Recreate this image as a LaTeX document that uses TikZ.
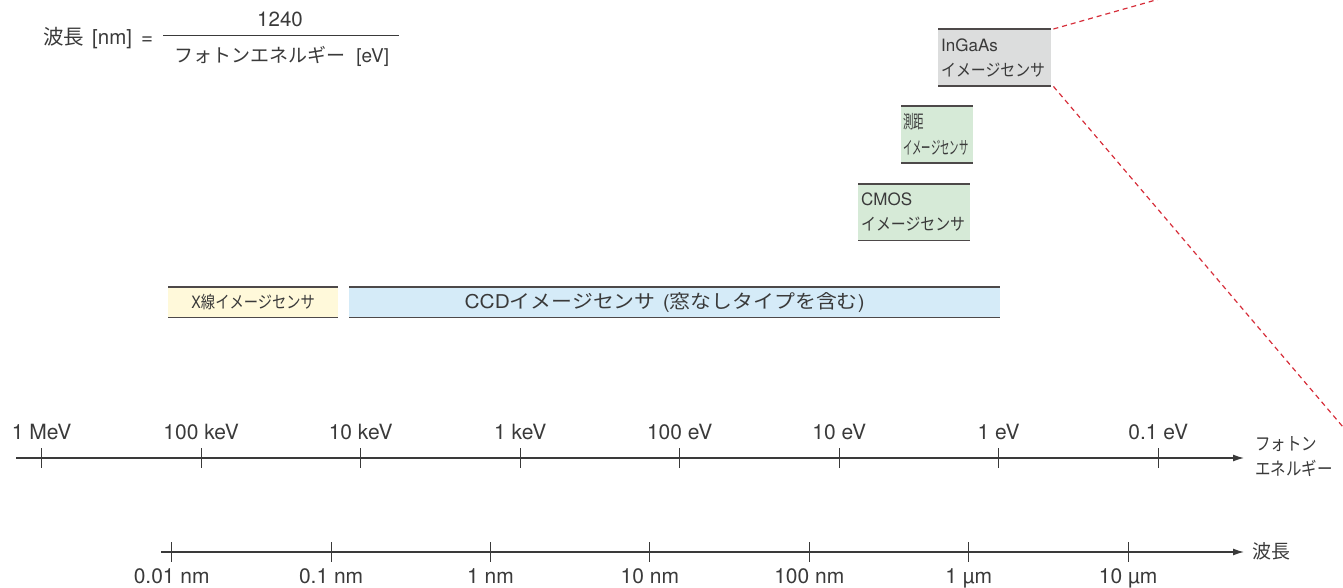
\documentclass[tikz,border=0pt]{standalone}
\usepackage{fontspec}
\setmainfont{TeX Gyre Heros}
\newfontfamily\jp{Noto Sans CJK JP}
\usepackage{graphicx}
\usetikzlibrary{arrows.meta}
\newcommand\sx[2]{\scalebox{#1}[1]{#2}}
\definecolor{ink}{HTML}{3A3A3A}
\definecolor{boxline}{HTML}{4D4949}
\definecolor{xfill}{HTML}{FFF9DA}
\definecolor{ccdfill}{HTML}{D5EBF8}
\definecolor{grnfill}{HTML}{D6EAD7}
\definecolor{grayfill}{HTML}{DCDDDD}
\definecolor{zoomred}{HTML}{D62E3A}
\begin{document}
\begin{tikzpicture}[x=1pt,y=-1pt,
  axis/.style={draw=ink, line width=1.3pt, -{Latex[length=11pt,width=7pt]}},
  tickmark/.style={draw=ink, line width=1pt},
  ticklabel/.style={anchor=base, inner sep=0pt, text=ink, font=\fontsize{21}{24}\selectfont},
  band/.style={anchor=north west, inner xsep=3pt, inner ysep=0pt, text=ink, font=\fontsize{17}{25}\selectfont},
  bandedge/.style={draw=boxline, line width=1.8pt},
  zoomline/.style={draw=zoomred, line width=1.2pt, dash pattern=on 5pt off 4pt},
  formula/.style={inner sep=0pt, anchor=base, text=ink, font=\fontsize{20.5}{22}\selectfont}
]
\useasboundingbox (0,0) rectangle (1343,588);
\clip (0,0) rectangle (1343,588);

% formula
\node[formula, anchor=base west] (lhs) at (43,45) {{\jp 波長}\hspace{8pt}[nm]\hspace{9pt}=};
\coordinate (barL) at (163,36);
\coordinate (barR) at (399,36);
\draw[draw=ink, line width=1pt] (barL) -- (barR);
\node[formula] (num) at (280,27) {1240};
\node[formula, font=\fontsize{19}{22}\selectfont] (den) at (282,63) {{\jp フォトンエネルギー}\ \ [eV]};

% sensor bands
\node[band, fill=grayfill, text width=107pt, minimum height=57pt, align=left] (ingaas) at (938,29)
  {InGaAs\\{\jp\sx{0.875}{イメージセンサ}}};
\node[band, fill=grnfill, inner xsep=2pt, text width=68pt, minimum height=57pt, align=left,
  font=\fontsize{18}{26}\selectfont] (sokkyo) at (901,106)
  {{\jp\sx{0.58}{測距}}\\{\jp\sx{0.52}{イメージセンサ}}};
\node[band, fill=grnfill, text width=106pt, minimum height=56pt, align=left] (cmos) at (858,184)
  {CMOS\\{\jp\sx{0.875}{イメージセンサ}}};
\node[band, fill=xfill, text width=164pt, minimum height=30pt, align=center] (xray) at (168,287)
  {\sx{0.84}{X{\jp 線イメージセンサ}}};
\node[band, fill=ccdfill, text width=645pt, minimum height=30pt, align=center,
  font=\fontsize{19}{25}\selectfont] (ccd) at (349,287)
  {\hspace*{-20pt}\sx{1.1}{CCD{\jp イメージセンサ} ({\jp 窓なしタイプを含む})}};
\foreach \b in {ingaas,sokkyo,cmos,xray,ccd}{
  \draw[bandedge] (\b.north west) -- (\b.north east);
  \draw[bandedge] (\b.south west) -- (\b.south east);
}

% zoom lines
\coordinate (zt) at (1343,-53);
\coordinate (zb) at (1343,427);
\draw[zoomline] ([xshift=2pt]ingaas.north east) -- (zt);
\draw[zoomline] ([xshift=2pt]ingaas.south east) -- (zb);

% energy axis
\coordinate (e0) at (16,458);
\coordinate (e1) at (1244,458);
\draw[axis] (e0) -- (e1);
\foreach \i/\lab in {0/1 MeV,1/100 keV,2/10 keV,3/1 keV,4/100 eV,5/10 eV,6/1 eV,7/0.1 eV}{
  \pgfmathsetmacro\xx{41.7+159.5*\i}
  \draw[tickmark] (\xx,448) -- (\xx,468);
  \node[ticklabel] (el\i) at (\xx,439) {\lab};
}
\node[anchor=north west, inner sep=0pt, align=left, text=ink, font=\fontsize{18}{25}\selectfont] (elab) at (1255,436)
  {{\jp\sx{0.86}{フォトン}}\\{\jp\sx{0.86}{エネルギー}}};

% wavelength axis
\coordinate (w0) at (161,552);
\coordinate (w1) at (1244,552);
\draw[axis] (w0) -- (w1);
\foreach \i/\lab in {0/0.01 nm,1/0.1 nm,2/1 nm,3/10 nm,4/100 nm,5/1 µm,6/10 µm}{
  \pgfmathsetmacro\xx{171.7+159.4*\i}
  \draw[tickmark] (\xx,542) -- (\xx,562);
  \node[ticklabel] (wl\i) at (\xx,583.5) {\lab};
}
\node[anchor=west, inner sep=0pt, text=ink, font=\fontsize{19}{22}\selectfont] (wlab) at (1252,551) {\jp 波長};
\end{tikzpicture}
\end{document}
